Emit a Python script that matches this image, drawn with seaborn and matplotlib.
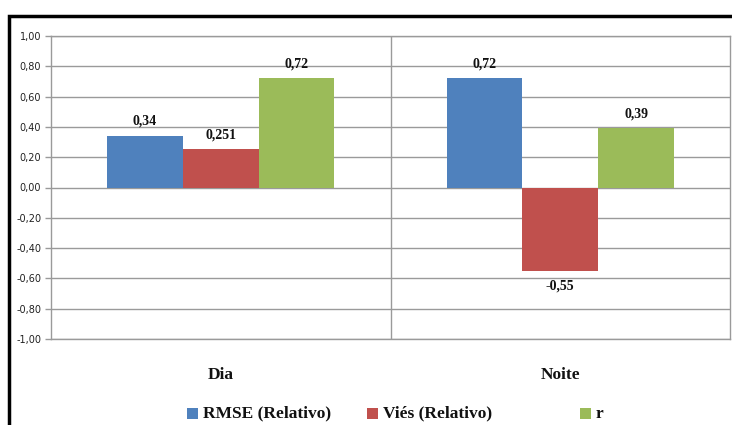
import matplotlib
matplotlib.use("Agg")
import matplotlib.pyplot as plt
from matplotlib.patches import Rectangle
from matplotlib.font_manager import FontProperties
import seaborn as sns
import pandas as pd

categories = ["Dia", "Noite"]
series = ["RMSE (Relativo)", "Viés (Relativo)", "r"]
rmse = [0.34, 0.72]
vies = [0.251, -0.55]
r_vals = [0.72, 0.39]
labels_rmse = ["0,34", "0,72"]
labels_vies = ["0,251", "-0,55"]
labels_r = ["0,72", "0,39"]
yticks = [-1.0, -0.8, -0.6, -0.4, -0.2, 0.0, 0.2, 0.4, 0.6, 0.8, 1.0]

colors = ["#4F81BD", "#C0504D", "#9BBB59"]

df = pd.DataFrame({
    "categoria": categories * 3,
    "serie": [series[0]] * 2 + [series[1]] * 2 + [series[2]] * 2,
    "valor": rmse + vies + r_vals,
})
texts = labels_rmse + labels_vies + labels_r

sns.set_theme(style="white")
plt.rcParams["font.family"] = ["Liberation Serif", "DejaVu Serif"]

serif_bold_10 = FontProperties(family="Liberation Serif", weight="bold", size=10)
serif_bold_12 = FontProperties(family="Liberation Serif", weight="bold", size=12.5)
sans_tick = FontProperties(family="DejaVu Sans", size=7)

W, H = 732, 425
fig = plt.figure(figsize=(W / 100, H / 100), dpi=100)
fig.patch.set_facecolor("white")

ax = fig.add_axes([51 / W, 1 - 339 / H, (730 - 51) / W, (339 - 36) / H])
sns.barplot(data=df, x="categoria", y="valor", hue="serie", hue_order=series,
            order=categories, palette=colors, width=0.67, saturation=1,
            edgecolor="none", linewidth=0, ax=ax, legend=False)

ax.set_ylim(-1.0, 1.0)
ax.set_xlim(-0.5, 1.5)
ax.set_yticks(yticks)
ax.set_yticklabels([f"{v:.2f}".replace(".", ",") for v in yticks],
                   fontproperties=sans_tick, color="#222222")
ax.set_xticks([0, 1])
ax.set_xticklabels(categories, fontproperties=serif_bold_12, color="#111111")
ax.set_xlabel("")
ax.set_ylabel("")
ax.yaxis.grid(True, color="#9A9A9A", linewidth=1.0)
ax.set_axisbelow(True)
ax.axvline(0.5, color="#9A9A9A", linewidth=1.0, zorder=0.5)
for side in ["left", "right", "top", "bottom"]:
    ax.spines[side].set_visible(True)
    ax.spines[side].set_color("#9A9A9A")
    ax.spines[side].set_linewidth(1.0)
ax.tick_params(axis="y", length=4, width=1, color="#9A9A9A", left=True, pad=3)
ax.tick_params(axis="x", length=0, pad=20)

# value labels above positive bars, below negative bars
for patch, txt in zip(ax.patches, texts):
    h = patch.get_height()
    x = patch.get_x() + patch.get_width() / 2
    if h >= 0:
        ax.annotate(txt, (x, h), xytext=(0, 6), textcoords="offset points",
                    ha="center", va="bottom", fontproperties=serif_bold_10,
                    color="#111111")
    else:
        ax.annotate(txt, (x, h), xytext=(0, -6), textcoords="offset points",
                    ha="center", va="top", fontproperties=serif_bold_10,
                    color="#111111")

# legend drawn as swatches with text along the bottom
legend_x = [187, 367, 580]
for lx, name, c in zip(legend_x, series, colors):
    fig.patches.append(Rectangle((lx / W, 1 - 419 / H), 11 / W, 11 / H,
                                 transform=fig.transFigure, facecolor=c,
                                 edgecolor="none"))
    fig.text((lx + 16) / W, 1 - 413.5 / H, name, ha="left", va="center",
             fontproperties=serif_bold_12, color="#111111")

# outer chart frame
fig.patches.append(Rectangle((9 / W, -0.1), 1.2, 1 - 16 / H + 0.1,
                             transform=fig.transFigure, fill=False,
                             edgecolor="black", linewidth=2.5, clip_on=False))

fig.savefig("out.png", dpi=100)
